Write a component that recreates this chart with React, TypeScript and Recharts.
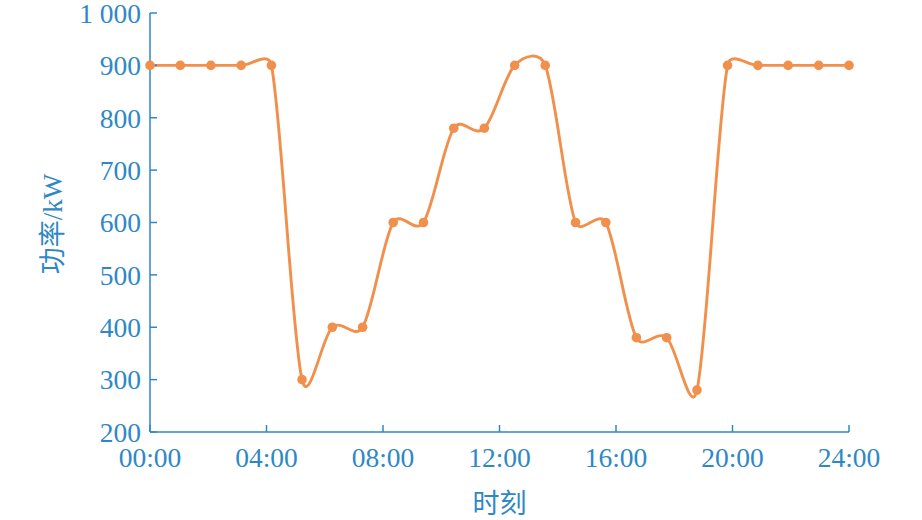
import React from "react";
import { LineChart, Line, XAxis, YAxis, Label } from "recharts";

// x positions (hours) and power (kW)
const hours = [
  0, 1.04, 2.09, 3.13, 4.17, 5.22, 6.26, 7.3, 8.35, 9.39, 10.43, 11.48,
  12.52, 13.57, 14.61, 15.65, 16.7, 17.74, 18.78, 19.83, 20.87, 21.91, 22.96,
  24,
];
const power = [
  900, 900, 900, 900, 900, 300, 400, 400, 600, 600, 780, 780, 900, 900, 600,
  600, 380, 380, 280, 900, 900, 900, 900, 900,
];
const xTicks = [0, 4, 8, 12, 16, 20, 24];
const yTicks = [200, 300, 400, 500, 600, 700, 800, 900, 1000];

const data = hours.map((h, i) => ({ t: h, p: power[i] }));

const BLUE = "#2f88c6";
const ORANGE = "#f0904c";
const FONT = "'Liberation Serif', 'Noto Sans CJK SC', serif";

// smooth bezier through points, tangent clipped to half of the segment
const smoothCurve = (context: any) => {
  let pts: number[][] = [];
  const clip = (v: number[], len: number) => {
    const l = Math.hypot(v[0], v[1]);
    if (l > len && l > 0) return [(v[0] * len) / l, (v[1] * len) / l];
    return v;
  };
  return {
    areaStart() {},
    areaEnd() {},
    lineStart() {
      pts = [];
    },
    point(x: number, y: number) {
      pts.push([+x, +y]);
    },
    lineEnd() {
      const n = pts.length;
      if (!n) return;
      context.moveTo(pts[0][0], pts[0][1]);
      for (let i = 0; i < n - 1; i++) {
        const p0 = pts[Math.max(i - 1, 0)];
        const p1 = pts[i];
        const p2 = pts[i + 1];
        const p3 = pts[Math.min(i + 2, n - 1)];
        const seg = Math.hypot(p2[0] - p1[0], p2[1] - p1[1]);
        const t1 = clip([(p2[0] - p0[0]) / 6, (p2[1] - p0[1]) / 6], seg * 0.5);
        const t2 = clip([(p3[0] - p1[0]) / 6, (p3[1] - p1[1]) / 6], seg * 0.5);
        context.bezierCurveTo(
          p1[0] + t1[0],
          p1[1] + t1[1],
          p2[0] - t2[0],
          p2[1] - t2[1],
          p2[0],
          p2[1]
        );
      }
    },
  };
};

const fmtHour = (v: number) => `${String(v).padStart(2, "0")}:00`;
const fmtPower = (v: number) => (v >= 1000 ? "1 000" : String(v));

export default function App() {
  const tickStyle = { fill: BLUE, fontSize: 27.5, fontFamily: FONT };
  return (
    <div style={{ position: "absolute", left: 0, top: 0, background: "#fff" }}>
      <LineChart
        width={922}
        height={520}
        data={data}
        margin={{ top: 13, right: 73, left: 0, bottom: 0 }}
      >
        <XAxis
          dataKey="t"
          type="number"
          domain={[0, 24]}
          ticks={xTicks}
          tickFormatter={fmtHour}
          height={88}
          stroke={BLUE}
          strokeWidth={1.5}
          tickSize={-7}
          tickMargin={22.6}
          tick={tickStyle}
          interval={0}
        >
          <Label
            content={() => (
              <text
                x={499.5}
                y={504}
                textAnchor="middle"
                dominantBaseline="central"
                fill={BLUE}
                fontSize={27}
                fontFamily={FONT}
              >
                时刻
              </text>
            )}
          />
        </XAxis>
        <YAxis
          type="number"
          domain={[200, 1000]}
          ticks={yTicks}
          tickFormatter={fmtPower}
          width={150}
          stroke={BLUE}
          strokeWidth={1.5}
          tickSize={-7}
          tickMargin={16}
          tick={tickStyle}
          interval={0}
        >
          <Label
            content={() => (
              <text
                x={53}
                y={224}
                textAnchor="middle"
                dominantBaseline="central"
                transform="rotate(-90 53 224)"
                fill={BLUE}
                fontSize={27}
                fontFamily={FONT}
              >
                功率/kW
              </text>
            )}
          />
        </YAxis>
        <Line
          type={smoothCurve as any}
          dataKey="p"
          stroke={ORANGE}
          strokeWidth={2.9}
          dot={{ r: 4.8, fill: ORANGE, stroke: "none" }}
          activeDot={false}
          isAnimationActive={false}
        />
      </LineChart>
    </div>
  );
}
